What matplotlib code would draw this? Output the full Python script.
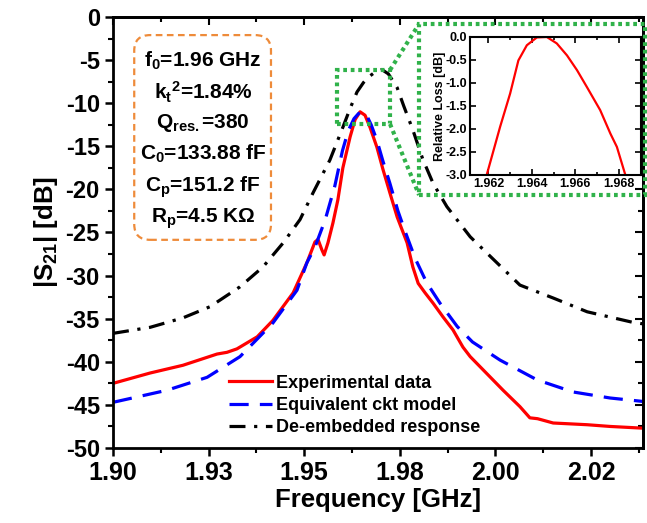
import matplotlib
matplotlib.use('Agg')
import matplotlib.pyplot as plt
from matplotlib.patches import FancyBboxPatch, Rectangle
from matplotlib.lines import Line2D

plt.rcParams['font.family'] = ['Liberation Sans', 'DejaVu Sans']
plt.rcParams['font.weight'] = 'bold'
plt.rcParams['axes.unicode_minus'] = False
plt.rcParams['mathtext.fontset'] = 'custom'
plt.rcParams['mathtext.rm'] = 'Liberation Sans:bold'
plt.rcParams['mathtext.it'] = 'Liberation Sans:bold'
plt.rcParams['mathtext.bf'] = 'Liberation Sans:bold'
plt.rcParams['mathtext.default'] = 'bf'

# experimental data (red)
f_exp = [1.900, 1.9097, 1.9183, 1.9272, 1.9298, 1.9324, 1.9377, 1.9418, 1.9471,
         1.9507, 1.9528, 1.9536, 1.9546, 1.9552, 1.9562, 1.9575, 1.9588, 1.9601,
         1.9620, 1.9633, 1.9646, 1.9659, 1.9672, 1.9690, 1.9706, 1.9724, 1.9743,
         1.9769, 1.9784, 1.9798, 1.9816, 1.9837, 1.9863, 1.9889, 1.9915, 1.9934,
         2.0020, 2.0064, 2.0090, 2.0110, 2.0151, 2.0240, 2.0300, 2.0386]
s_exp = [-42.5, -41.3, -40.4, -39.1, -38.9, -38.5, -37.1, -35.2, -32.0,
         -28.5, -26.1, -25.8, -27.0, -27.6, -26.2, -23.9, -21.2, -17.5,
         -13.9, -11.9, -11.0, -11.4, -12.8, -15.1, -17.7, -20.4, -23.2,
         -26.2, -29.0, -30.9, -32.0, -33.2, -34.8, -36.3, -38.3, -39.4,
         -43.3, -45.2, -46.5, -46.6, -47.1, -47.3, -47.5, -47.7]

# equivalent circuit model (blue)
f_mod = [1.900, 1.9141, 1.9246, 1.9332, 1.9418, 1.9481, 1.9507, 1.9528, 1.9555,
         1.9580, 1.9600, 1.9615, 1.9630, 1.9642, 1.9651, 1.9662, 1.9675, 1.9690,
         1.9705, 1.9724, 1.9745, 1.9764, 1.9790, 1.9820, 1.9855, 1.9900, 1.9940,
         2.0012, 2.0109, 2.0203, 2.0300, 2.0386]
s_mod = [-44.7, -43.3, -41.8, -39.4, -35.5, -31.7, -28.5, -26.7, -23.5,
         -19.6, -15.5, -13.2, -11.8, -11.2, -11.0, -11.3, -12.5, -14.3,
         -16.6, -19.3, -22.5, -24.9, -28.0, -30.8, -33.2, -35.9, -37.7,
         -39.8, -42.1, -43.5, -44.2, -44.6]

# de-embedded response (black)
f_deb = [1.900, 1.9097, 1.9183, 1.9254, 1.9332, 1.9392, 1.9445, 1.9489, 1.9523,
         1.9567, 1.9601, 1.9620, 1.9638, 1.9655, 1.9667, 1.9685, 1.9703, 1.9720,
         1.9743, 1.9760, 1.9784, 1.9810, 1.9837, 1.9873, 1.9934, 1.9978, 2.0064,
         2.0151, 2.0240, 2.0357, 2.0386]
s_deb = [-36.7, -36.0, -34.9, -33.6, -31.3, -29.0, -26.2, -23.5, -20.4,
         -16.6, -12.8, -10.6, -8.7, -7.6, -7.0, -6.4, -6.1, -6.6,
         -8.2, -10.3, -13.1, -16.5, -19.3, -22.0, -25.5, -27.4, -31.1,
         -32.6, -34.2, -35.4, -35.6]

# inset: relative loss around the peak
f_ins = [1.96192, 1.96254, 1.96300, 1.96338, 1.96377, 1.96423, 1.96469, 1.96515,
         1.96562, 1.96608, 1.96654, 1.96715, 1.96762, 1.96792, 1.96831]
rl_ins = [-3.0, -1.95, -1.23, -0.51, -0.18, -0.01, 0.0, -0.14,
          -0.40, -0.72, -1.09, -1.59, -2.10, -2.39, -3.0]

xticks = [1.900, 1.925, 1.950, 1.975, 2.000, 2.025]
xticklabels = ['1.90', '1.93', '1.95', '1.98', '2.00', '2.02']
params = ['f$_0$=1.96 GHz', 'k$_t$$^2$=1.84%', 'Q$_{res.}$=380',
          'C$_0$=133.88 fF', 'C$_p$=151.2 fF', 'R$_p$=4.5 K\u03a9']

fig = plt.figure(figsize=(6.47, 5.23), dpi=100)
ax = fig.add_axes([0.1747, 0.1434, 0.8192, 0.8241])

ax.plot(f_exp, s_exp, color='red', lw=2.3, label='Experimental data')
ax.plot(f_mod, s_mod, color='blue', lw=2.3, dashes=(6, 3.5), label='Equivalent ckt model')
ax.plot(f_deb, s_deb, color='black', lw=2.3, dashes=(5, 2.7, 1, 2.7), label='De-embedded response')

ax.set_xlim(1.9, 2.0386)
ax.set_ylim(-50, 0)
ax.set_xticks(xticks)
ax.set_xticklabels(xticklabels)
ax.set_xticks([1.9125, 1.9375, 1.9625, 1.9875, 2.0125, 2.0375], minor=True)
ax.set_yticks(range(-50, 1, 5))
ax.set_yticks([v - 2.5 for v in range(-45, 1, 5)], minor=True)
ax.tick_params(which='major', direction='out', length=6, width=1.8, labelsize=17)
ax.tick_params(axis='x', labelsize=18)
ax.tick_params(which='minor', direction='out', length=3.5, width=1.5)
for s in ax.spines.values():
    s.set_linewidth(2)

# mirrored ticks pointing inward on top and right
top = ax.secondary_xaxis('top')
top.set_xticks(xticks)
top.set_xticks([1.9125, 1.9375, 1.9625, 1.9875, 2.0125, 2.0375], minor=True)
top.tick_params(which='both', direction='in', labeltop=False, width=1.5)
top.tick_params(which='major', length=6)
top.tick_params(which='minor', length=3.5)
right = ax.secondary_yaxis('right')
right.set_yticks(range(-50, 1, 5))
right.set_yticks([v - 2.5 for v in range(-45, 1, 5)], minor=True)
right.tick_params(which='both', direction='in', labelright=False, width=1.5)
right.tick_params(which='major', length=6)
right.tick_params(which='minor', length=3.5)
top.spines['top'].set_linewidth(2)
right.spines['right'].set_linewidth(2)

ax.set_xlabel('Frequency [GHz]', fontsize=18.5, fontweight='bold', labelpad=2)
ax.set_ylabel('|S$_{21}$| [dB]', fontsize=18.5, fontweight='bold', labelpad=4)

leg = ax.legend(loc='lower left', bbox_to_anchor=(0.218, 0.027), frameon=False,
                fontsize=13, handlelength=2.4, handletextpad=0.25, labelspacing=0.3,
                borderaxespad=0, borderpad=0)

# parameter box
box = FancyBboxPatch((0.04, 0.483), 0.258, 0.475, boxstyle='round,pad=0,rounding_size=0.03',
                     transform=ax.transAxes, fc='white', ec='#ee8b3a', lw=1.6,
                     ls=(0, (3, 2)), zorder=5, mutation_aspect=1.2)
ax.add_patch(box)
for i, t in enumerate(params):
    ax.text(0.17, 0.905 - i * 0.0725, t, transform=ax.transAxes, ha='center', va='center_baseline',
            fontsize=15, fontweight='bold', zorder=6)

# zoom markers
green = '#30b24a'
gkw = dict(color=green, lw=3, ls=(0, (0.9, 0.9)), transform=ax.transAxes, clip_on=False, zorder=7)
ax.add_patch(Rectangle((0.4226, 0.7517), 0.1, 0.1253, fill=False, ec=green, lw=3,
                       ls=(0, (0.9, 0.9)), transform=ax.transAxes, zorder=7))
ax.add_line(Line2D([0.5226, 0.5774], [0.8770, 0.9838], **gkw))
ax.add_line(Line2D([0.5226, 0.5774], [0.7517, 0.5870], **gkw))
ax.add_patch(Rectangle((0.5774, 0.5870), 0.4264, 0.3968, fill=False, ec=green, lw=3,
                       ls=(0, (0.9, 0.9)), transform=ax.transAxes, clip_on=False, zorder=7))

# inset
ins = fig.add_axes([0.7264, 0.6654, 0.2643, 0.2639])
ins.plot(f_ins, rl_ins, color='red', lw=1.6)
ins.set_xlim(1.96115, 1.96903)
ins.set_ylim(-3.0, 0.0)
ins.set_xticks([1.962, 1.964, 1.966, 1.968])
ins.set_xticklabels(['1.962', '1.964', '1.966', '1.968'])
ins.set_xticks([1.963, 1.965, 1.967], minor=True)
ins.set_yticks([0.0, -0.5, -1.0, -1.5, -2.0, -2.5, -3.0])
ins.set_yticklabels(['0.0', '-0.5', '-1.0', '-1.5', '-2.0', '-2.5', '-3.0'])
ins.tick_params(which='both', direction='in', top=True, right=True, labelsize=9, width=1.2, pad=2)
ins.tick_params(which='major', length=4)
ins.tick_params(which='minor', length=2.5)
for s in ins.spines.values():
    s.set_linewidth(1.5)
ins.set_ylabel('Relative Loss [dB]', fontsize=9, fontweight='bold', labelpad=0)

fig.savefig('out.png', dpi=100)
